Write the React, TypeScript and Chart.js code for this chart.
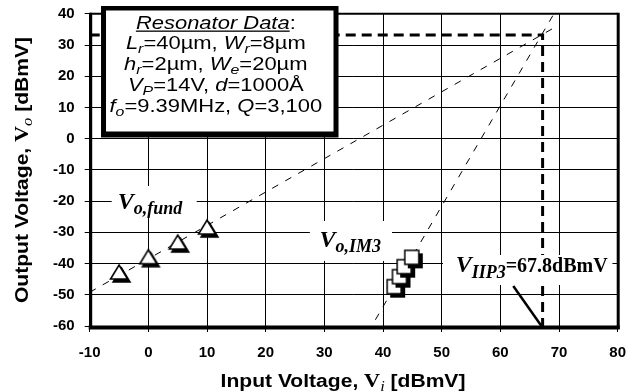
import { useEffect, useRef } from 'react';
import { Chart, registerables } from 'chart.js';

Chart.register(...registerables);

// ---------- data ----------
const X_MIN = -10, X_MAX = 80, X_STEP = 10;
const Y_MIN = -60, Y_MAX = 40, Y_STEP = 10;

const fundInX = [-5, 0, 5, 10];
const fundOutY = [-42.7, -37.8, -33.1, -28.3];

const im3InX = [41.9, 42.8, 43.6, 44.9];
const im3OutY = [-47.4, -44.2, -41.0, -38.0];

const fundFitX = [-10, 69.6];
const fundFitY = [-49.2, 36.0];

const im3FitX = [38.7, 69.0];
const im3FitY = [-58, 39.6];

const iip3PathX = [-10, 67.2, 67.2];
const iip3PathY = [33.2, 33.2, -60];

const pointerX = [62.2, 67.0];
const pointerY = [-47.2, -60];

// text content
type Part = [string, string]; // [text, flags: i=italic, s=subscript, u=underline]
const boxLines: Part[][] = [
  [['Resonator Data', 'iu'], [':', '']],
  [['L', 'i'], ['r', 'is'], ['=40\u00b5m, ', ''], ['W', 'i'], ['r', 'is'], ['=8\u00b5m', '']],
  [['h', 'i'], ['r', 'is'], ['=2\u00b5m, ', ''], ['W', 'i'], ['e', 'is'], ['=20\u00b5m', '']],
  [['V', 'i'], ['P', 'is'], ['=14V, ', ''], ['d', 'i'], ['=1000\u00c5', '']],
  [['f', 'i'], ['o', 'is'], ['=9.39MHz, ', ''], ['Q', 'i'], ['=3,100', '']],
];
const fundLabel: Part[] = [['V', 'i'], ['o,fund', 'is']];
const im3Label: Part[] = [['V', 'i'], ['o,IM3', 'is']];
const iip3Label: Part[] = [['V', 'i'], ['IIP3', 'is'], ['=67.8dBmV', '']];
const xTitle: Part[] = [['Input Voltage, ', ''], ['V', 'v'], ['i', 'is'], [' [dBmV]', '']];
const yTitle: Part[] = [['Output Voltage, ', ''], ['V', 'v'], ['o', 'is'], [' [dBmV]', '']];

const SANS = '"Liberation Sans", Arial, sans-serif';
const SERIF = '"Liberation Serif", "Times New Roman", serif';

interface Run { t: string; font: string; dy: number; u?: boolean }

function drawRuns(ctx: CanvasRenderingContext2D, runs: Run[], cx: number, by: number, sx: number) {
  let w = 0;
  for (const r of runs) { ctx.font = r.font; w += ctx.measureText(r.t).width; }
  ctx.save();
  ctx.translate(cx - (w * sx) / 2, by);
  ctx.scale(sx, 1);
  ctx.textAlign = 'left';
  ctx.textBaseline = 'alphabetic';
  ctx.fillStyle = '#000';
  let x = 0;
  for (const r of runs) {
    ctx.font = r.font;
    const tw = ctx.measureText(r.t).width;
    ctx.fillText(r.t, x, r.dy);
    if (r.u) ctx.fillRect(x, r.dy + 2, tw, 1.3);
    x += tw;
  }
  ctx.restore();
}

function boxRuns(parts: Part[]): Run[] {
  return parts.map(([t, f]) => {
    const it = f.includes('i') ? 'italic ' : '';
    const sub = f.includes('s');
    return { t, font: `${it}${sub ? 13 : 18}px ${SANS}`, dy: sub ? 4 : 0, u: f.includes('u') };
  });
}

function vRuns(parts: Part[], big: number, sub: number, rest: number, dy: number): Run[] {
  return parts.map(([t, f]) => {
    if (f.includes('s')) return { t, font: `italic bold ${sub}px ${SERIF}`, dy };
    if (f.includes('i')) return { t, font: `italic bold ${big}px ${SERIF}`, dy: 0 };
    return { t, font: `bold ${rest}px ${SERIF}`, dy: 0 };
  });
}

function titleRuns(parts: Part[]): Run[] {
  return parts.map(([t, f]) => {
    if (f.includes('s')) return { t, font: `italic 14px ${SERIF}`, dy: 4 };
    if (f.includes('v')) return { t, font: `bold 19px ${SERIF}`, dy: 0 };
    return { t, font: `bold 18px ${SANS}`, dy: 0 };
  });
}

function makeTriangle(): HTMLCanvasElement {
  const c = document.createElement('canvas');
  c.width = 28; c.height = 28;
  const g = c.getContext('2d')!;
  const w = 17, h = 14, cx = 14, cy = 14;
  const path = (dx: number, dy: number) => {
    g.beginPath();
    g.moveTo(cx + dx, cy - h / 2 + dy);
    g.lineTo(cx + w / 2 + dx, cy + h / 2 + dy);
    g.lineTo(cx - w / 2 + dx, cy + h / 2 + dy);
    g.closePath();
  };
  g.fillStyle = '#000'; path(2.5, 3); g.fill(); g.lineWidth = 1.5; g.strokeStyle = '#000'; g.stroke();
  path(0, 0); g.fillStyle = '#fff'; g.fill(); g.lineWidth = 1.6; g.stroke();
  return c;
}

function makeSquare(): HTMLCanvasElement {
  const c = document.createElement('canvas');
  c.width = 26; c.height = 26;
  const g = c.getContext('2d')!;
  const s = 14, cx = 13, cy = 13;
  g.fillStyle = '#000';
  g.fillRect(cx - s / 2 + 3, cy - s / 2 + 3, s + 1, s + 1);
  g.fillStyle = '#fff';
  g.fillRect(cx - s / 2, cy - s / 2, s, s);
  g.lineWidth = 1.5; g.strokeStyle = '#000';
  g.strokeRect(cx - s / 2, cy - s / 2, s, s);
  return c;
}

const overlay = {
  id: 'overlay',
  afterDatasetsDraw(chart: any) {
    const { ctx, chartArea: a, scales } = chart;
    const X = (v: number) => scales.x.getPixelForValue(v);
    const Y = (v: number) => scales.y.getPixelForValue(v);
    ctx.save();
    ctx.strokeStyle = '#000';
    ctx.lineCap = 'butt';
    // plot frame
    ctx.lineWidth = 2; ctx.beginPath(); ctx.moveTo(a.left, a.top); ctx.lineTo(a.right, a.top); ctx.stroke();
    ctx.lineWidth = 3; ctx.beginPath(); ctx.moveTo(a.right + 0.5, a.top - 1); ctx.lineTo(a.right + 0.5, a.bottom + 3); ctx.stroke();
    ctx.lineWidth = 3; ctx.beginPath(); ctx.moveTo(a.left + 1, a.top - 1); ctx.lineTo(a.left + 1, a.bottom + 3); ctx.stroke();
    ctx.lineWidth = 4; ctx.beginPath(); ctx.moveTo(a.left - 1, a.bottom + 1.5); ctx.lineTo(a.right + 2, a.bottom + 1.5); ctx.stroke();

    // resonator data box
    const bx1 = X(-8.07), bx2 = X(32.41), by1 = Y(42.5), by2 = Y(0.38);
    ctx.fillStyle = '#000';
    ctx.fillRect(bx1, by1, bx2 - bx1, by2 - by1);
    ctx.fillStyle = '#fff';
    ctx.fillRect(bx1 + 5, by1 + 4.5, bx2 - bx1 - 10, by2 - by1 - 10.5);
    const tcx = X(11.5);
    boxLines.forEach((ln, i) => {
      drawRuns(ctx, boxRuns(ln), tcx, Y(35.29) + i * 20.8, 1.22);
    });

    // labels with white backgrounds
    const label = (x1: number, x2: number, y1: number, y2: number, runs: Run[], cx: number, by: number) => {
      ctx.fillStyle = '#fff';
      ctx.fillRect(X(x1), Y(y1), X(x2) - X(x1), Y(y2) - Y(y1));
      drawRuns(ctx, runs, X(cx), Y(by), 1);
    };
    label(-6.25, 8.24, -15.16, -24.77, vRuns(fundLabel, 24, 18, 18, 5), 0.29, -22.62);
    label(27.53, 41.53, -26.37, -39.18, vRuns(im3Label, 24, 18, 18, 5), 34.43, -34.6);
    label(50.22, 79.1, -37.26, -46.87, vRuns(iip3Label, 24, 18, 20, 6), 65.34, -42.6);
    ctx.restore();
  },
  afterDraw(chart: any) {
    const { ctx } = chart;
    ctx.save();
    drawRuns(ctx, titleRuns(xTitle), 343, 387, 1.17);
    ctx.translate(28, 170);
    ctx.rotate(-Math.PI / 2);
    drawRuns(ctx, titleRuns(yTitle), 0, 0, 1.17);
    ctx.restore();
  },
};

export default function App() {
  const ref = useRef<HTMLCanvasElement>(null);
  useEffect(() => {
    const tri = makeTriangle();
    const sq = makeSquare();
    const pts = (xs: number[], ys: number[]) => xs.map((x, i) => ({ x, y: ys[i] }));
    const lineDs = (xs: number[], ys: number[], w: number, dash: number[]) => ({
      data: pts(xs, ys), showLine: true, borderColor: '#000', borderWidth: w, borderDash: dash,
      pointRadius: 0, pointHoverRadius: 0, fill: false, tension: 0,
    });
    const tickFont = { family: SANS, size: 15, weight: 'bold' as const };
    const chart = new Chart(ref.current!, {
      type: 'scatter',
      data: {
        datasets: [
          { data: pts(im3InX, im3OutY), pointStyle: sq, pointRadius: 9, showLine: false } as any,
          { data: pts(fundInX, fundOutY), pointStyle: tri, pointRadius: 9, showLine: false } as any,
          lineDs(pointerX, pointerY, 2.5, []),
          lineDs(iip3PathX, iip3PathY, 3, [10, 6]),
          lineDs(fundFitX, fundFitY, 1, [7, 8]),
          lineDs(im3FitX, im3FitY, 1, [7, 8]),
        ],
      },
      options: {
        responsive: false,
        animation: false,
        events: [],
        layout: { padding: { top: 13.8, right: 23.3, left: 0, bottom: 0 } },
        plugins: { legend: { display: false }, tooltip: { enabled: false } },
        scales: {
          x: {
            type: 'linear', min: X_MIN, max: X_MAX,
            ticks: { stepSize: X_STEP, color: '#000', font: tickFont, padding: 12 },
            grid: { color: '#000', lineWidth: 1, tickLength: 6, tickColor: '#000' },
            border: { display: false },
            afterFit: (s: any) => { s.height = 65; s.paddingLeft = 0; s.paddingRight = 0; },
          },
          y: {
            type: 'linear', min: Y_MIN, max: Y_MAX,
            ticks: { stepSize: Y_STEP, color: '#000', font: tickFont, padding: 10 },
            grid: { color: '#000', lineWidth: 1, tickLength: 5, tickColor: '#000' },
            border: { display: false },
            afterFit: (s: any) => { s.width = 89.7; s.paddingTop = 0; s.paddingBottom = 0; },
          },
        },
      },
      plugins: [overlay],
    });
    return () => chart.destroy();
  }, []);
  return (
    <canvas ref={ref} width={641} height={391}
      style={{ position: 'absolute', left: 0, top: 0, width: 641, height: 391, background: '#fff' }} />
  );
}
